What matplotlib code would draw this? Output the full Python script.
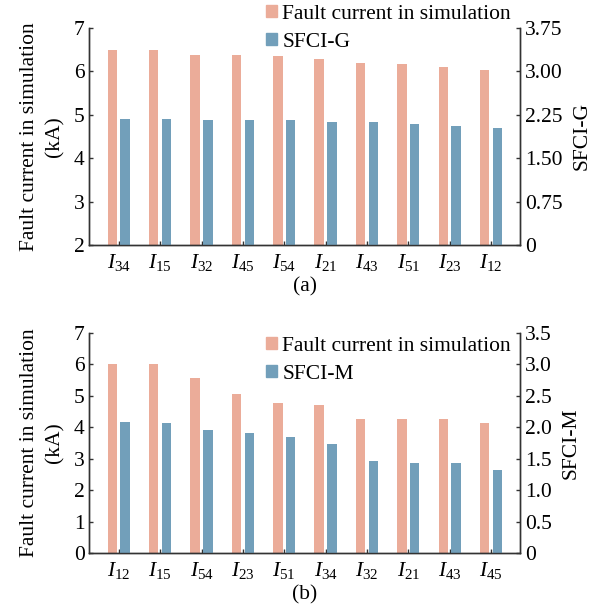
import numpy as np
import matplotlib
matplotlib.use("Agg")
import matplotlib.pyplot as plt
from matplotlib.patches import Patch

plt.rcParams["font.family"] = ["Liberation Serif", "DejaVu Serif"]
plt.rcParams["mathtext.fontset"] = "custom"
plt.rcParams["mathtext.rm"] = "Liberation Serif"
plt.rcParams["mathtext.it"] = "Liberation Serif:italic"
plt.rcParams["font.size"] = 15.5

ORANGE = "#EBAC99"
BLUE = "#729FBA"

# panel (a): SFCI-G
a_lines = ["34", "15", "32", "45", "54", "21", "43", "51", "23", "12"]
a_current = [6.48, 6.48, 6.37, 6.37, 6.35, 6.29, 6.18, 6.16, 6.09, 6.02]
a_sfci = [2.17, 2.17, 2.15, 2.15, 2.15, 2.13, 2.12, 2.08, 2.06, 2.02]
a_right_ticks = [0, 0.75, 1.5, 2.25, 3.0, 3.75]
a_right_labels = ["0", "0.75", "1.50", "2.25", "3.00", "3.75"]

# panel (b): SFCI-M
b_lines = ["12", "15", "54", "23", "51", "34", "32", "21", "43", "45"]
b_current = [6.0, 6.0, 5.57, 5.06, 4.78, 4.70, 4.25, 4.25, 4.25, 4.13]
b_sfci = [2.09, 2.06, 1.96, 1.91, 1.85, 1.73, 1.46, 1.43, 1.43, 1.32]
b_right_ticks = [0, 0.5, 1.0, 1.5, 2.0, 2.5, 3.0, 3.5]
b_right_labels = ["0", "0.5", "1.0", "1.5", "2.0", "2.5", "3.0", "3.5"]

W, H = 593, 610
fig = plt.figure(figsize=(W / 100, H / 100), dpi=100)


def panel(rect, lines, current, sfci, ylim_left, right_ticks, right_labels,
          right_name, caption, legend_top):
    ax = fig.add_axes(rect)
    ax2 = ax.twinx()
    x = np.arange(len(lines))
    w = 0.23
    ax.bar(x - 0.155, current, w, color=ORANGE)
    ax2.bar(x + 0.155, sfci, w, color=BLUE)

    ax.set_xlim(-0.72, 9.7)
    ax.set_ylim(*ylim_left)
    ax.set_yticks(range(ylim_left[0], ylim_left[1] + 1))
    ax2.set_ylim(0, right_ticks[-1])
    ax2.set_yticks(right_ticks)
    ax2.set_yticklabels(right_labels)
    ax.set_xticks(x)
    ax.set_xticklabels([rf"$I_{{{s}}}$" for s in lines])

    for a in (ax, ax2):
        a.spines["top"].set_visible(False)
        for s in a.spines.values():
            s.set_linewidth(1.0)
            s.set_color("#333333")
        a.tick_params(direction="in", length=3, width=1.0, color="#333333")
    ax.tick_params(axis="y", pad=3)
    ax.tick_params(axis="x", pad=5)
    ax2.tick_params(axis="y", pad=3.5)

    ax.set_ylabel("Fault current in simulation\n(kA)", linespacing=1.45, labelpad=7)
    ax2.set_ylabel(right_name, labelpad=7)

    handles = [Patch(color=ORANGE), Patch(color=BLUE)]
    ax2.legend(handles, ["Fault current in simulation", right_name],
               loc="upper left", bbox_to_anchor=(266 / W, 1 - legend_top / H),
               bbox_transform=fig.transFigure, frameon=False, borderpad=0,
               borderaxespad=0, handlelength=0.5, handleheight=0.5,
               handletextpad=0.25, labelspacing=0.4)

    fig.text((89 + 520) / 2 / W, rect[1] - 42 / H, caption, ha="center", va="center")
    return ax, ax2


panel([89 / W, 1 - 245 / H, 431 / W, 217.3 / H], a_lines, a_current, a_sfci,
      (2, 7), a_right_ticks, a_right_labels, "SFCI-G", "(a)", 5)
panel([89 / W, 1 - 553.3 / H, 431 / W, 220.6 / H], b_lines, b_current, b_sfci,
      (0, 7), b_right_ticks, b_right_labels, "SFCI-M", "(b)", 337)

fig.savefig("out.png", dpi=100)
